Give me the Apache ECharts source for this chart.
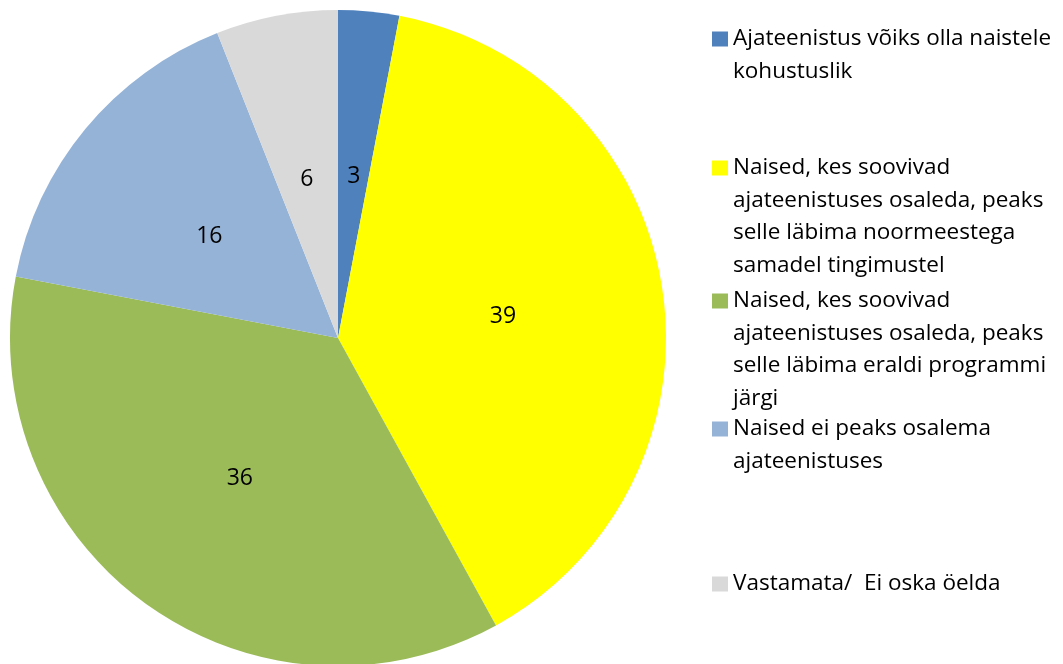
<!DOCTYPE html>
<html><head><meta charset="utf-8">
<script src="https://cdn.jsdelivr.net/npm/echarts@6/dist/echarts.min.js"></script>
<style>html,body{margin:0;padding:0;background:#fff}#c{width:1063px;height:664px}</style>
</head><body><div id="c"></div>
<script>
const categories = [
  'Ajateenistus võiks olla naistele kohustuslik',
  'Naised, kes soovivad ajateenistuses osaleda, peaks selle läbima noormeestega samadel tingimustel',
  'Naised, kes soovivad ajateenistuses osaleda, peaks selle läbima eraldi programmi järgi',
  'Naised ei peaks osalema ajateenistuses',
  'Vastamata/  Ei oska öelda'
];
const legendLines = [
  ['Ajateenistus võiks olla naistele', 'kohustuslik'],
  ['Naised, kes soovivad', 'ajateenistuses osaleda, peaks', 'selle läbima noormeestega', 'samadel tingimustel'],
  ['Naised, kes soovivad', 'ajateenistuses osaleda, peaks', 'selle läbima eraldi programmi', 'järgi'],
  ['Naised ei peaks osalema', 'ajateenistuses'],
  ['Vastamata/  Ei oska öelda']
];
const values = [3, 39, 36, 16, 6];
const colors = ['#4F81BD', '#FFFF00', '#9BBB59', '#95B3D7', '#D9D9D9'];

const firstLineY = [39, 168, 301, 429, 584];
const LH = 32.5;
const FONT = '"Open Sans", "Liberation Sans", Arial, sans-serif';

const legends = categories.map((name, i) => {
  const n = legendLines[i].length;
  const total = (2 * n - 1) * LH;
  return {
    data: [name],
    left: 712,
    top: firstLineY[i] - total / 2,
    padding: 0,
    itemWidth: 16,
    itemHeight: 15,
    icon: 'rect',
    itemGap: 0,
    selectedMode: false,
    formatter: () => '\n'.repeat(n - 1) + legendLines[i].join('\n'),
    textStyle: { fontFamily: FONT, fontSize: 22.5, color: '#000', lineHeight: LH, padding: [0, 0, 0, 0] }
  };
});

const chart = echarts.init(document.getElementById('c'), null, { renderer: 'canvas' });
chart.setOption({
  animation: false,
  color: colors,
  legend: legends,
  series: [{
    type: 'pie',
    center: [338, 338],
    radius: [0, 328],
    startAngle: 90,
    clockwise: true,
    avoidLabelOverlap: false,
    label: {
      show: true,
      position: 'inside',
      formatter: '{c}',
      color: '#000',
      fontFamily: FONT,
      fontSize: 23,
      offset: [0, 5]
    },
    labelLine: { show: false },
    itemStyle: { borderWidth: 0 },
    emphasis: { disabled: true },
    data: categories.map((name, i) => ({ name, value: values[i] }))
  }]
});
</script></body></html>
